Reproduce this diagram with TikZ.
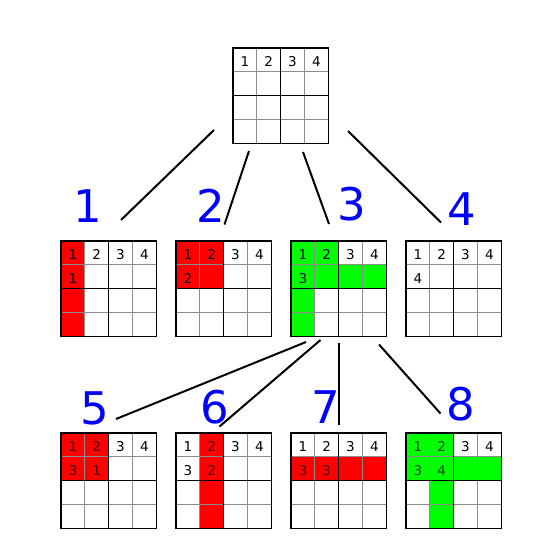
\documentclass[tikz,border=0pt]{standalone}
\usepackage{fontspec}
\setmainfont{DejaVu Sans}

\def\cs{23.8}
% inner lines and border of one 4x4 board
\newcommand{\gridlines}{%
  \foreach \k in {1,3} {
    \draw[thinline] (\k*\cs,0) -- (\k*\cs,4*\cs);
    \draw[thinline] (0,\k*\cs) -- (4*\cs,\k*\cs);
  }
  \draw[thickline] (2*\cs,0) -- (2*\cs,4*\cs) (0,2*\cs) -- (4*\cs,2*\cs);
  \draw[thickline] (0,0) rectangle (4*\cs,4*\cs);
}
% header row: board name, style, columns
\newcommand{\toprow}[3]{%
  \foreach \t in {#3} \node[digit,#2] (#1-\t) at ({(\t-0.5)*\cs},{0.5*\cs}) {\t};
}

\begin{document}
\begin{tikzpicture}[x=1pt,y=-1pt,
    digit/.style={font=\fontsize{13.5}{14}\selectfont,inner sep=0pt,yshift=-1.5pt},
    tag/.style={text=blue,font=\fontsize{45}{46}\selectfont,inner sep=0pt},
    thinline/.style={draw=black!45,line width=1pt},
    thickline/.style={draw=black,line width=1.4pt},
    redcell/.style={fill=red},
    greencell/.style={fill=green},
    plain/.style={},
    dimred/.style={text=red!30!black},
    dimgreen/.style={text=green!25!black},
    link/.style={line width=2pt}]
    \useasboundingbox (0,0) rectangle (555,552);

    % start board
    \begin{scope}[shift={(233,48)}]
      \toprow{g0}{plain}{1,...,4}
      \gridlines
    \end{scope}

    % first level
    \begin{scope}[shift={(61,241)}]
      \foreach \r in {0,...,3} \fill[redcell] (0,\r*\cs) rectangle +(\cs,\cs);
      \toprow{g1}{plain}{1,...,4}
      \node[digit] (g1-b) at ({0.5*\cs},{1.5*\cs}) {1};
      \gridlines
    \end{scope}
    \begin{scope}[shift={(176,241)}]
      \fill[redcell] (0,0) rectangle (2*\cs,2*\cs);
      \toprow{g2}{plain}{1,...,4}
      \node[digit] (g2-b) at ({0.5*\cs},{1.5*\cs}) {2};
      \gridlines
    \end{scope}
    \begin{scope}[shift={(291,241)}]
      \fill[greencell] (0,0) rectangle (2*\cs,\cs);
      \fill[greencell] (0,\cs) rectangle (4*\cs,2*\cs);
      \fill[greencell] (0,2*\cs) rectangle (\cs,4*\cs);
      \toprow{g3}{plain}{1,...,4}
      \node[digit] (g3-b) at ({0.5*\cs},{1.5*\cs}) {3};
      \gridlines
    \end{scope}
    \begin{scope}[shift={(406,241)}]
      \toprow{g4}{plain}{1,...,4}
      \node[digit] (g4-b) at ({0.5*\cs},{1.5*\cs}) {4};
      \gridlines
    \end{scope}

    % second level
    \begin{scope}[shift={(61,433)}]
      \fill[redcell] (0,0) rectangle (2*\cs,2*\cs);
      \toprow{g5}{dimred}{1,2}
      \toprow{g5}{plain}{3,4}
      \node[digit,dimred] (g5-b) at ({0.5*\cs},{1.5*\cs}) {3};
      \node[digit,dimred] (g5-c) at ({1.5*\cs},{1.5*\cs}) {1};
      \gridlines
    \end{scope}
    \begin{scope}[shift={(176,433)}]
      \fill[redcell] (\cs,0) rectangle (2*\cs,4*\cs);
      \toprow{g6}{plain}{1,3,4}
      \toprow{g6}{dimred}{2}
      \node[digit] (g6-b) at ({0.5*\cs},{1.5*\cs}) {3};
      \node[digit,dimred] (g6-c) at ({1.5*\cs},{1.5*\cs}) {2};
      \gridlines
    \end{scope}
    \begin{scope}[shift={(291,433)}]
      \fill[redcell] (0,\cs) rectangle (4*\cs,2*\cs);
      \toprow{g7}{plain}{1,...,4}
      \node[digit,dimred] (g7-b) at ({0.5*\cs},{1.5*\cs}) {3};
      \node[digit,dimred] (g7-c) at ({1.5*\cs},{1.5*\cs}) {3};
      \gridlines
    \end{scope}
    \begin{scope}[shift={(406,433)}]
      \fill[greencell] (0,0) rectangle (2*\cs,\cs);
      \fill[greencell] (0,\cs) rectangle (4*\cs,2*\cs);
      \fill[greencell] (\cs,2*\cs) rectangle (2*\cs,4*\cs);
      \toprow{g8}{dimgreen}{1,2}
      \toprow{g8}{plain}{3,4}
      \node[digit,dimgreen] (g8-b) at ({0.5*\cs},{1.5*\cs}) {3};
      \node[digit,dimgreen] (g8-c) at ({1.5*\cs},{1.5*\cs}) {4};
      \gridlines
    \end{scope}

    % branch numbers
    \node[tag] (t1) at (88,206) {1};
    \node[tag] (t2) at (210.5,206) {2};
    \node[tag] (t3) at (352,204.5) {3};
    \node[tag] (t4) at (461.5,209) {4};
    \node[tag] (t5) at (95,408.5) {5};
    \node[tag] (t6) at (214.5,407.5) {6};
    \node[tag] (t7) at (326,407) {7};
    \node[tag] (t8) at (461,404.5) {8};

    % branch ends
    \coordinate (s1) at (214,130);
    \coordinate (s2) at (249,151);
    \coordinate (s3) at (303,152);
    \coordinate (s4) at (348,131);
    \coordinate (e1) at (121,220);
    \coordinate (e2) at (224.5,224.5);
    \coordinate (e3) at (329,224);
    \coordinate (e4) at (441,222.5);
    \coordinate (s5) at (306,342);
    \coordinate (s6) at (320.5,340);
    \coordinate (s7) at (338.5,342.5);
    \coordinate (s8) at (379,344.5);
    \coordinate (e5) at (116,419);
    \coordinate (e6) at (219.5,426.5);
    \coordinate (e7) at (338.5,424.5);
    \coordinate (e8) at (440.5,413.5);
    \foreach \k in {1,...,8} \draw[link] (s\k) -- (e\k);
  \end{tikzpicture}
\end{document}
